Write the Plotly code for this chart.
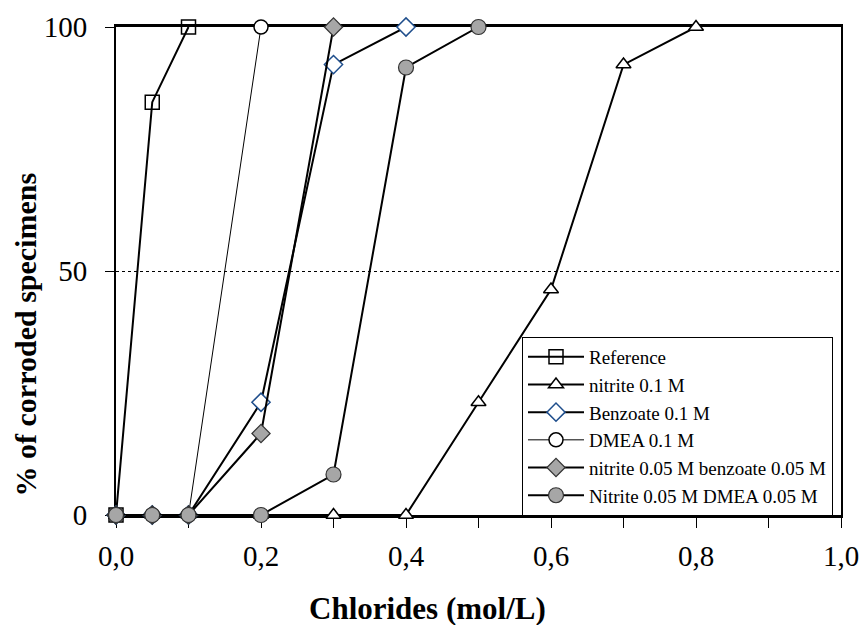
import plotly.graph_objects as go

# Data
ref_x = [0, 0.05, 0.1]
ref_y = [0, 84.6, 100]
nit_x = [0, 0.05, 0.1, 0.2, 0.3, 0.4, 0.5, 0.6, 0.7, 0.8]
nit_y = [0, 0, 0, 0, 0, 0, 23.1, 46.2, 92.3, 100]
benz_x = [0, 0.05, 0.1, 0.2, 0.3, 0.4]
benz_y = [0, 0, 0, 23.1, 92.3, 100]
dmea_x = [0, 0.05, 0.1, 0.2]
dmea_y = [0, 0, 0, 100]
nb_x = [0, 0.05, 0.1, 0.2, 0.3]
nb_y = [0, 0, 0, 16.7, 100]
nd_x = [0, 0.05, 0.1, 0.2, 0.3, 0.4, 0.5]
nd_y = [0, 0, 0, 0, 8.3, 91.7, 100]

names = ["Reference", "nitrite 0.1 M", "Benzoate 0.1 M", "DMEA 0.1 M",
         "nitrite 0.05 M benzoate 0.05 M", "Nitrite 0.05 M DMEA 0.05 M"]
x_title = "Chlorides (mol/L)"
y_title = "% of corroded specimens"

FONT = "Times New Roman, Liberation Serif, Tinos, serif"
GRAY = "#A6A6A6"

fig = go.Figure()

series = [
    (ref_x, ref_y, names[0], 2, dict(symbol="square-open", size=14, color="black", line=dict(width=1.5, color="black"))),
    (nit_x, nit_y, names[1], 2, dict(symbol="triangle-up", size=13, color="white", line=dict(width=1.5, color="black"))),
    (benz_x, benz_y, names[2], 2, dict(symbol="diamond", size=14, color="white", line=dict(width=1.5, color="#1F4E8C"))),
    (dmea_x, dmea_y, names[3], 1, dict(symbol="circle", size=14, color="white", line=dict(width=1.5, color="black"))),
    (nb_x, nb_y, names[4], 2, dict(symbol="diamond", size=14, color=GRAY, line=dict(width=1.2, color="#333333"))),
    (nd_x, nd_y, names[5], 2, dict(symbol="circle", size=15, color=GRAY, line=dict(width=1.2, color="#333333"))),
]

for i, (x, y, nm, lw, mk) in enumerate(series):
    fig.add_trace(go.Scatter(
        x=x, y=y, name=nm, mode="lines+markers",
        line=dict(color="black", width=lw),
        marker=mk, cliponaxis=False, legendgroup=f"g{i}",
    ))

fig.update_layout(
    width=865, height=625,
    margin=dict(l=116, r=24, t=27, b=110, autoexpand=False),
    paper_bgcolor="white", plot_bgcolor="white",
    separators=", ",
    font=dict(family=FONT, color="black", size=29),
    showlegend=True,
    legend=dict(
        x=0.560, y=0.365, xanchor="left", yanchor="top",
        xref="paper", yref="paper",
        bgcolor="white", bordercolor="black", borderwidth=1,
        font=dict(family=FONT, size=19, color="black"),
        tracegroupgap=0, traceorder="grouped",
        itemwidth=56,
    ),
    xaxis=dict(
        range=[0, 1], dtick=0.2, tickformat=".1f",
        showline=True, linecolor="black", linewidth=3, mirror=True,
        ticks="outside", ticklen=10, tickwidth=1, tickcolor="black",
        minor=dict(dtick=0.1, ticks="outside", ticklen=10, tickwidth=1, tickcolor="black"),
        showgrid=False, zeroline=False,
        tickfont=dict(family=FONT, size=29),
        ticklabelstandoff=3, ticklabeloverflow="allow",
        layer="below traces",
    ),
    yaxis=dict(
        range=[0, 100], dtick=50,
        showline=True, linecolor="black", linewidth=2, mirror=True,
        ticks="outside", ticklen=9, tickwidth=1, tickcolor="black",
        showgrid=True, gridcolor="black", gridwidth=1, griddash="dot",
        zeroline=False,
        tickfont=dict(family=FONT, size=29),
        ticklabelstandoff=12, ticklabeloverflow="allow",
        layer="below traces",
    ),
    annotations=[
        dict(text=f"<b>{x_title}</b>", xref="paper", yref="paper",
             x=0.430, y=-0.192, xanchor="center", yanchor="middle",
             showarrow=False, font=dict(family=FONT, size=31, color="black")),
        dict(text=f"<b>{y_title}</b>", xref="paper", yref="paper",
             x=-0.1255, y=0.37, xanchor="center", yanchor="middle", textangle=-90,
             showarrow=False, font=dict(family=FONT, size=30, color="black")),
    ],
)

fig.write_html("out.html")
